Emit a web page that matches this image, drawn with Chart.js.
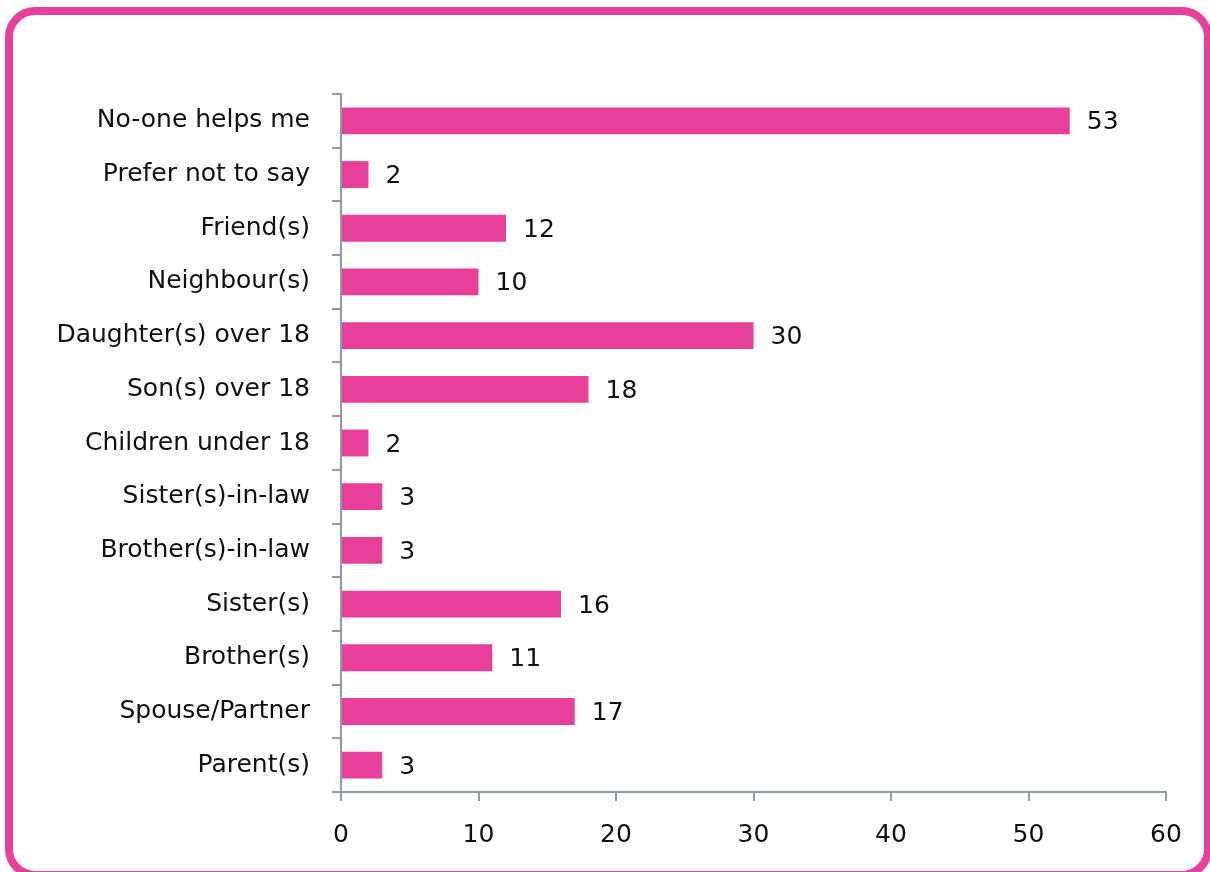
<!DOCTYPE html>
<html>
<head>
<meta charset="utf-8">
<script src="https://cdn.jsdelivr.net/npm/chart.js@4"></script>
<style>
  html, body { margin: 0; padding: 0; background: #ffffff; overflow: hidden; }
  #frame {
    position: absolute; left: 5px; top: 7px; width: 1207px; height: 872px;
    box-sizing: border-box; border: 8px solid #E8409A; border-radius: 30px;
  }
  #wrap { position: absolute; left: 0; top: 0; width: 1210px; height: 872px; }
</style>
</head>
<body>
<div id="frame"></div>
<div id="wrap"><canvas id="chart" width="1210" height="872"></canvas></div>
<script>
// Who helps with caring responsibilities (number of respondents)
const categories = [
  'No-one helps me', 'Prefer not to say', 'Friend(s)', 'Neighbour(s)',
  'Daughter(s) over 18', 'Son(s) over 18', 'Children under 18',
  'Sister(s)-in-law', 'Brother(s)-in-law', 'Sister(s)', 'Brother(s)',
  'Spouse/Partner', 'Parent(s)'
];
const responses = [53, 2, 12, 10, 30, 18, 2, 3, 3, 16, 11, 17, 3];
const xTicks = [0, 10, 20, 30, 40, 50, 60];

const FONT = "'DejaVu Sans', 'Noto Sans', sans-serif";
const FONT_SIZE = 25;
const AXIS = '#8E9AA7';
const PINK = '#E8409A';

// Writes each bar's value just past its end
const valueLabels = {
  id: 'valueLabels',
  afterDatasetsDraw(chart) {
    const ctx = chart.ctx;
    const meta = chart.getDatasetMeta(0);
    ctx.save();
    ctx.font = FONT_SIZE + 'px ' + FONT;
    ctx.fillStyle = '#111111';
    ctx.textAlign = 'left';
    ctx.textBaseline = 'middle';
    meta.data.forEach((bar, i) => {
      ctx.fillText(String(chart.data.datasets[0].data[i]), bar.x + 17, bar.y + 2);
    });
    ctx.restore();
  }
};

new Chart(document.getElementById('chart'), {
  type: 'bar',
  data: {
    labels: categories,
    datasets: [{
      data: responses,
      backgroundColor: PINK,
      borderWidth: 0,
      barPercentage: 0.5,
      categoryPercentage: 1.0
    }]
  },
  options: {
    indexAxis: 'y',
    responsive: false,
    animation: false,
    events: [],
    layout: { padding: { left: 0, top: 94, right: 44, bottom: 0 } },
    plugins: { legend: { display: false }, tooltip: { enabled: false } },
    scales: {
      x: {
        min: 0, max: 60,
        afterBuildTicks(scale) { scale.ticks = xTicks.map(v => ({ value: v })); },
        afterFit(scale) { scale.height = 80; },
        border: { display: true, color: AXIS, width: 2 },
        grid: { drawOnChartArea: false, drawTicks: true, tickLength: 9, color: AXIS, lineWidth: 2 },
        ticks: { padding: 19, color: '#111111', font: { family: FONT, size: FONT_SIZE } }
      },
      y: {
        afterFit(scale) { scale.width = 341; },
        border: { display: true, color: AXIS, width: 2 },
        grid: { offset: true, drawOnChartArea: false, drawTicks: true, tickLength: 9, color: AXIS, lineWidth: 2 },
        ticks: { padding: 22, color: '#111111', font: { family: FONT, size: FONT_SIZE } }
      }
    }
  },
  plugins: [valueLabels]
});
</script>
</body>
</html>
